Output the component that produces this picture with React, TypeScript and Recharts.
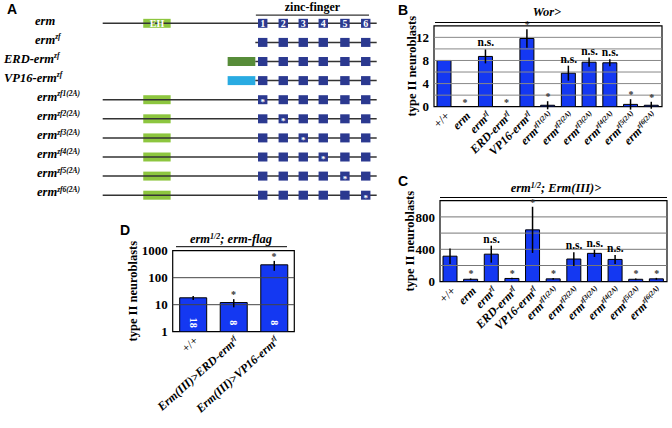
import React from 'react';
import {
  ComposedChart,
  ScatterChart,
  Scatter,
  Bar,
  Line,
  XAxis,
  YAxis,
  ReferenceLine,
  ReferenceArea,
  ErrorBar,
  LabelList,
} from 'recharts';

const SERIF = '"Liberation Serif", "Times New Roman", serif';
const SANS = '"Liberation Sans", Arial, sans-serif';
const BAR_BLUE = '#1438F2';
const NAVY = '#2B3990';

// panel A: construct schematics (positions in arbitrary sequence units, 0-100)
const constructs = [
  'erm',
  'erm^zf',
  'ERD-erm^zf',
  'VP16-erm^zf',
  'erm^zf1(2A)',
  'erm^zf2(2A)',
  'erm^zf3(2A)',
  'erm^zf4(2A)',
  'erm^zf5(2A)',
  'erm^zf6(2A)',
];
const backboneStart = [0, 55.7, 55.7, 55.7, 0, 0, 0, 0, 0, 0];
const backboneEnd = 100;
const hasEH = [true, false, false, false, true, true, true, true, true, true];
const fusionDomain = ['', '', 'ERD', 'VP16', '', '', '', '', '', ''];
const ehSpan = [14.8, 24.8];
const fusionSpan = [45.6, 55.7];
const zincFingers = [58.4, 65.9, 73.2, 80.5, 88.4, 96.0];
const mutatedFinger = [0, 0, 0, 0, 1, 2, 3, 4, 5, 6];

// panel B: Wor>
const genotypes = [
  '+/+',
  'erm',
  'erm^zf',
  'ERD-erm^zf',
  'VP16-erm^zf',
  'erm^zf1(2A)',
  'erm^zf2(2A)',
  'erm^zf3(2A)',
  'erm^zf4(2A)',
  'erm^zf5(2A)',
  'erm^zf6(2A)',
];
const worMeans = [8, 0, 8.7, 0, 11.8, 0.25, 5.8, 7.7, 7.6, 0.4, 0.25];
const worErrors = [0, 0, 1.2, 0, 1.6, 0.7, 1.3, 0.8, 0.6, 0.9, 0.6];
const worMarks = ['', '*', 'n.s.', '*', '*', '*', 'n.s.', 'n.s.', 'n.s.', '*', '*'];
const worTicks = [0, 4, 8, 12];
const worGrid = [2, 4, 6, 8, 10, 12];

// panel C: erm1/2; Erm(III)>
const ermMeans = [315, 30, 340, 40, 640, 35, 280, 350, 275, 30, 35];
const ermErrors = [95, 10, 105, 10, 285, 10, 85, 45, 55, 10, 12];
const ermMarks = ['', '*', 'n.s.', '*', '*', '*', 'n.s.', 'n.s.', 'n.s.', '*', '*'];
const ermTicks = [0, 400, 800];
const ermGrid = [200, 400, 600, 800];

// panel D: erm1/2; erm-flag
const flagGenotypes = ['+/+', 'Erm(III)>ERD-erm^zf', 'Erm(III)>VP16-erm^zf'];
const flagMeans = [18, 12, 300];
const flagErrors = [3, 4, 120];
const flagCounts = [18, 8, 8];
const flagMarks = ['', '*', '*'];
const flagTicks = [1, 10, 100, 1000];
const flagGrid = [10, 100];

function GenotypeSpans({ name, supSize = 8 }: { name: string; supSize?: number }) {
  const [main, sup] = name.split('^');
  return (
    <>
      <tspan>{main}</tspan>
      {sup && (
        <tspan dy={-4.5} fontSize={supSize}>
          {sup}
        </tspan>
      )}
    </>
  );
}

function SlantTick(props: any) {
  const { x, y, payload, angle } = props;
  const upright = payload.value === '+/+';
  return (
    <g transform={`translate(${x + 3},${y + 5})`}>
      <text
        transform={`rotate(${angle})`}
        textAnchor="end"
        dy="0.35em"
        fontFamily={SERIF}
        fontWeight={upright ? 'normal' : 'bold'}
        fontStyle={upright ? 'normal' : 'italic'}
        fontSize={12}
        fill="#000"
      >
        <GenotypeSpans name={payload.value} supSize={7} />
      </text>
    </g>
  );
}

function MarkLabel(props: any) {
  const { x, y, value } = props;
  if (!value) return null;
  const star = value === '*';
  return (
    <text
      x={x}
      y={star ? y - 1 : y - 3}
      textAnchor="middle"
      fontFamily={SERIF}
      fontWeight="bold"
      fontSize={star ? 10 : 11.5}
      fill={star ? '#333' : '#000'}
    >
      {value}
    </text>
  );
}

function CountLabel(props: any) {
  const { x, y, width, height, value } = props;
  const cx = x + width / 2;
  const cy = y + height - 9;
  return (
    <text
      x={cx}
      y={cy}
      transform={`rotate(90, ${cx}, ${cy})`}
      textAnchor="middle"
      dy="0.35em"
      fontFamily={SERIF}
      fontWeight="bold"
      fontSize={10}
      fill="#fff"
    >
      {value}
    </text>
  );
}

function ConstructTick(props: any) {
  const { y, payload } = props;
  const name = constructs[payload.value];
  const fused = name.startsWith('ERD') || name.startsWith('VP16');
  const left = fused ? 4 : name.includes('(') ? 37 : 35;
  return (
    <text
      x={left}
      y={y}
      dy="0.1em"
      fontFamily={SERIF}
      fontWeight="bold"
      fontStyle="italic"
      fontSize={12.5}
      fill="#000"
    >
      <GenotypeSpans name={name} supSize={7.5} />
    </text>
  );
}

function FingerShape(props: any) {
  const { cx, cy, payload } = props;
  const w = 9.4;
  const h = 9;
  const text = payload.row === 0 ? String(payload.finger) : payload.mutated ? '*' : '';
  return (
    <g>
      <rect x={cx - w / 2} y={cy - h / 2} width={w} height={h} fill={NAVY} />
      {text && (
        <text
          x={cx}
          y={cy}
          dy={payload.row === 0 ? '0.35em' : '0.6em'}
          textAnchor="middle"
          fontFamily={SERIF}
          fontWeight="bold"
          fontSize={payload.row === 0 ? 10 : 9}
          fill="#fff"
        >
          {text}
        </text>
      )}
    </g>
  );
}

function ConstructPanel() {
  const fingers = constructs.flatMap((_, row) =>
    zincFingers.map((pos, j) => ({
      pos,
      row,
      finger: j + 1,
      mutated: mutatedFinger[row] === j + 1,
    }))
  );
  const halfBox = 0.235;
  return (
    <div style={{ position: 'absolute', left: 0, top: 0 }}>
      <ScatterChart width={400} height={210} margin={{ top: 0.4, right: 23.3, left: 0, bottom: 5.25 }}>
        <XAxis type="number" dataKey="pos" domain={[0, 100]} hide allowDataOverflow />
        <YAxis
          type="number"
          dataKey="row"
          domain={[-1.2, 9.5]}
          reversed
          allowDataOverflow
          ticks={constructs.map((_, i) => i)}
          interval={0}
          width={102.7}
          axisLine={false}
          tickLine={false}
          tick={ConstructTick}
        />
        <ReferenceLine
          segment={[
            { x: 55.9, y: -0.43 },
            { x: 97.2, y: -0.43 },
          ]}
          stroke="#000"
          strokeWidth={1}
          label={{
            value: 'zinc-finger',
            position: 'top',
            offset: 4,
            fill: '#000',
            fontFamily: SERIF,
            fontWeight: 'bold',
            fontSize: 12,
          }}
        />
        {constructs.map((_, row) => (
          <ReferenceLine
            key={`bb${row}`}
            segment={[
              { x: backboneStart[row], y: row },
              { x: backboneEnd, y: row },
            ]}
            stroke="#333"
            strokeWidth={1.5}
          />
        ))}
        {constructs.map((_, row) =>
          hasEH[row] ? (
            <ReferenceArea
              key={`eh${row}`}
              x1={ehSpan[0]}
              x2={ehSpan[1]}
              y1={row - halfBox}
              y2={row + halfBox}
              fill="#8DC63F"
              fillOpacity={1}
              stroke="none"
              label={
                row === 0
                  ? { value: 'EH', position: 'center', fill: '#fff', fontFamily: SERIF, fontWeight: 'bold', fontSize: 10 }
                  : undefined
              }
            />
          ) : null
        )}
        {constructs.map((_, row) =>
          fusionDomain[row] ? (
            <ReferenceArea
              key={`fu${row}`}
              x1={fusionSpan[0]}
              x2={fusionSpan[1]}
              y1={row - halfBox}
              y2={row + halfBox}
              fill={fusionDomain[row] === 'ERD' ? '#578C39' : '#29ABE2'}
              fillOpacity={1}
              stroke="none"
            />
          ) : null
        )}
        <Scatter data={fingers} shape={FingerShape} isAnimationActive={false} />
      </ScatterChart>
    </div>
  );
}

interface BarPanelProps {
  left: number;
  top: number;
  width: number;
  height: number;
  margin: { top: number; right: number; left: number; bottom: number };
  yAxisWidth: number;
  xAxisHeight: number;
  names: string[];
  means: number[];
  errors: number[];
  marks: string[];
  counts?: number[];
  domain: [number, number];
  ticks: number[];
  grid: number[];
  log?: boolean;
  barSize: number;
  labelOffset: number;
  angle: number;
  gridColor: string;
}

function BarPanel(p: BarPanelProps) {
  const data = p.names.map((name, i) => ({
    name,
    mean: p.means[i],
    err: p.errors[i],
    top: p.means[i] + p.errors[i],
    mark: p.marks[i],
    n: p.counts ? p.counts[i] : undefined,
  }));
  return (
    <div style={{ position: 'absolute', left: p.left, top: p.top }}>
      <ComposedChart width={p.width} height={p.height} data={data} margin={p.margin}>
        <XAxis
          dataKey="name"
          interval={0}
          height={p.xAxisHeight}
          tickSize={0}
          axisLine={false}
          tickLine={false}
          tick={(t: any) => <SlantTick {...t} angle={p.angle} />}
        />
        <YAxis
          type="number"
          scale={p.log ? 'log' : 'linear'}
          domain={p.domain}
          ticks={p.ticks}
          allowDataOverflow
          width={p.yAxisWidth}
          axisLine={false}
          tickLine={false}
          tickSize={0}
          tickMargin={5}
          tick={{ fill: '#000', fontFamily: SERIF, fontWeight: 'bold', fontSize: 13 }}
          label={{
            value: 'type II neuroblasts',
            angle: -90,
            position: 'insideLeft',
            offset: p.labelOffset,
            fill: '#000',
            style: { textAnchor: 'middle', fontFamily: SERIF, fontWeight: 'bold', fontSize: 12.5 },
          }}
        />
        {p.grid.map((v) => (
          <ReferenceLine key={v} y={v} stroke={p.gridColor} strokeWidth={1} />
        ))}
        <ReferenceArea y1={p.domain[0]} y2={p.domain[1]} fill="none" stroke="#000" strokeWidth={1.2} />
        <Bar dataKey="mean" fill={BAR_BLUE} stroke="#000" strokeWidth={1} barSize={p.barSize} isAnimationActive={false}>
          <ErrorBar dataKey="err" width={0} stroke="#000" strokeWidth={1.5} />
          {p.counts && <LabelList dataKey="n" content={CountLabel} />}
        </Bar>
        <Line dataKey="top" stroke="none" dot={false} activeDot={false} isAnimationActive={false}>
          <LabelList dataKey="mark" content={MarkLabel} />
        </Line>
      </ComposedChart>
    </div>
  );
}

function Headings() {
  const title = { fontFamily: SERIF, fontWeight: 'bold' as const, fontStyle: 'italic' as const, fontSize: 12.5, fill: '#000' };
  const letter = { fontFamily: SANS, fontWeight: 'bold' as const, fontSize: 14, fill: '#000' };
  return (
    <svg width={672} height={428} style={{ position: 'absolute', left: 0, top: 0, pointerEvents: 'none' }}>
      <text x={7} y={14} {...letter}>A</text>
      <text x={398} y={15} {...letter}>B</text>
      <text x={398} y={186} {...letter}>C</text>
      <text x={120} y={235} {...letter}>D</text>

      <text x={547} y={16} textAnchor="middle" {...title}>Wor&gt;</text>
      <line x1={435} x2={660} y1={22.5} y2={22.5} stroke="#000" strokeWidth={1} />

      <text x={556} y={192} textAnchor="middle" {...title}>
        <tspan>erm</tspan>
        <tspan dy={-4.5} fontSize={8}>1/2</tspan>
        <tspan dy={4.5}>; Erm(III)&gt;</tspan>
      </text>
      <line x1={440} x2={667} y1={197.5} y2={197.5} stroke="#000" strokeWidth={1} />

      <text x={231} y={243} textAnchor="middle" {...title}>
        <tspan>erm</tspan>
        <tspan dy={-4.5} fontSize={8}>1/2</tspan>
        <tspan dy={4.5}>; erm-flag</tspan>
      </text>
      <line x1={176} x2={287} y1={246.7} y2={246.7} stroke="#000" strokeWidth={1} />
    </svg>
  );
}

export default function App() {
  return (
    <div style={{ position: 'absolute', left: 0, top: 0, width: 672, height: 428, background: '#fff', overflow: 'hidden' }}>
      <ConstructPanel />
      <BarPanel
        left={370}
        top={0}
        width={300}
        height={175}
        margin={{ top: 25.8, right: 8, left: 0, bottom: 0 }}
        yAxisWidth={64}
        xAxisHeight={68.3}
        names={genotypes}
        means={worMeans}
        errors={worErrors}
        marks={worMarks}
        domain={[0, 14]}
        ticks={worTicks}
        grid={worGrid}
        barSize={14}
        labelOffset={42}
        angle={-45}
        gridColor="#888"
      />
      <BarPanel
        left={370}
        top={170}
        width={302}
        height={200}
        margin={{ top: 30.7, right: 5, left: 0, bottom: 0 }}
        yAxisWidth={70}
        xAxisHeight={88.3}
        names={genotypes}
        means={ermMeans}
        errors={ermErrors}
        marks={ermMarks}
        domain={[0, 1000]}
        ticks={ermTicks}
        grid={ermGrid}
        barSize={14}
        labelOffset={40}
        angle={-45}
        gridColor="#777"
      />
      <BarPanel
        left={100}
        top={230}
        width={210}
        height={198}
        margin={{ top: 20.7, right: 15.7, left: 0, bottom: 0 }}
        yAxisWidth={72.7}
        xAxisHeight={96.3}
        names={flagGenotypes}
        means={flagMeans}
        errors={flagErrors}
        marks={flagMarks}
        counts={flagCounts}
        domain={[1, 1000]}
        ticks={flagTicks}
        grid={flagGrid}
        log
        barSize={27}
        labelOffset={33}
        angle={-42}
        gridColor="#444"
      />
      <Headings />
    </div>
  );
}
